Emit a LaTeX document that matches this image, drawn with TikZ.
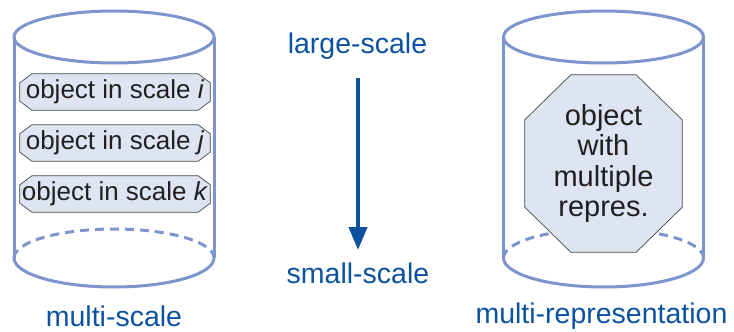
\documentclass[tikz,border=0pt]{standalone}
\usepackage{fontspec}
\setmainfont{Liberation Sans}
\usetikzlibrary{arrows.meta,backgrounds}
\definecolor{cyl}{RGB}{125,148,205}
\definecolor{boxfill}{RGB}{222,228,241}
\definecolor{lblue}{RGB}{12,82,160}
\definecolor{txt}{RGB}{35,31,32}
\definecolor{boxline}{RGB}{70,70,70}
\tikzset{
  cylline/.style={draw=cyl,line width=3pt},
  cylback/.style={draw=cyl,line width=3pt,dash pattern=on 9pt off 6pt},
  octline/.style={draw=boxline,line width=0.7pt,fill=boxfill},
  scalebox/.style={rectangle,minimum width=190pt,minimum height=36pt,inner sep=0pt,
    text=txt,font=\fontsize{26}{30}\selectfont},
  multibox/.style={rectangle,minimum width=157pt,minimum height=177pt,inner sep=0pt,
    text=txt,align=center,font=\fontsize{29}{30.5}\selectfont},
  lbl/.style={text=lblue,anchor=base,inner sep=0pt,font=\fontsize{28.5}{30}\selectfont},
}
\newcommand{\octo}[3]{%
  \path[octline] ([xshift=#2]#1.north west) -- ([xshift=-#2]#1.north east)
    -- ([yshift=-#3]#1.north east) -- ([yshift=#3]#1.south east)
    -- ([xshift=-#2]#1.south east) -- ([xshift=#2]#1.south west)
    -- ([yshift=#3]#1.south west) -- ([yshift=-#3]#1.north west) -- cycle;}
\begin{document}
\begin{tikzpicture}[x=1pt,y=-1pt]
\useasboundingbox (0,0) rectangle (734,332);
\node[scalebox] (si) at (115,92) {object in scale \textit{i}};
\node[scalebox] (sj) at (115,143) {object in scale \textit{j}};
\node[scalebox] (sk) at (115,194) {object in scale \textit{k}};
\node[multibox] (mr) at (603.5,163.5) {object\\with\\multiple\\repres.};
\begin{scope}[on background layer]
\foreach \cx in {114,603.5}{
  \draw[cylline] (\cx,37) ellipse [x radius=100, y radius=26];
  \draw[cylline] (\cx-100,37) -- (\cx-100,258);
  \draw[cylline] (\cx+100,37) -- (\cx+100,258);
  \draw[cylline] (\cx-100,258) arc[start angle=180,end angle=0,x radius=100,y radius=29];
  \draw[cylback] (\cx-100,258) arc[start angle=180,end angle=360,x radius=100,y radius=29];
}
\octo{si}{12pt}{9pt}
\octo{sj}{12pt}{9pt}
\octo{sk}{12pt}{9pt}
\octo{mr}{46pt}{45pt}
\end{scope}
\node[lbl] (large) at (357.5,53) {large-scale};
\node[lbl] (small) at (358,283) {small-scale};
\node[lbl] (ms) at (114,326) {multi-scale};
\node[lbl] (mrep) at (601.5,323) {multi-representation};
\coordinate (atop) at (358,78);
\coordinate (abot) at (358,250);
\draw[draw=lblue,line width=4pt,-{Triangle[length=23pt,width=18pt]}] (atop) -- (abot);
\end{tikzpicture}
\end{document}
